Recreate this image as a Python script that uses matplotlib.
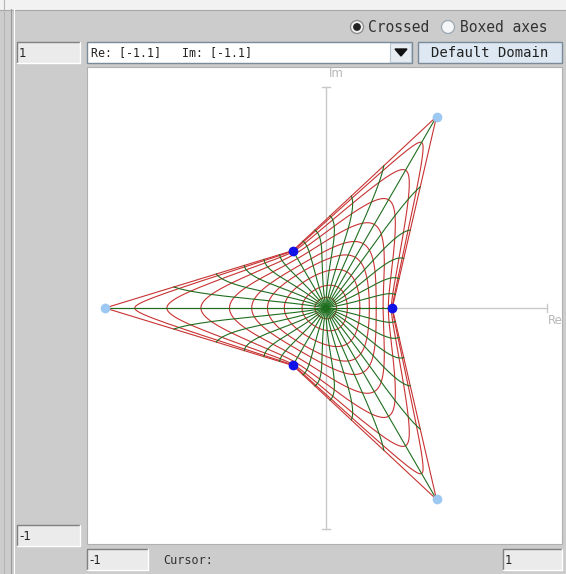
import numpy as np
import matplotlib
matplotlib.use("Agg")
import matplotlib.pyplot as plt
from matplotlib.patches import Rectangle, Circle, Polygon

# star polygon: vertex angle (deg) and distance from the origin
vertex_angles = [0, 60, 120, 180, 240, 300]
vertex_radii = [0.30, 1.0, 0.30, 1.0, 0.30, 1.0]
tip_angles = [60, 180, 300]
notch_angles = [0, 120, 240]

# polar grid of the unit disk that is mapped onto the star
circle_radii = [0.1, 0.21, 0.35, 0.47, 0.57, 0.69, 0.81, 0.91, 0.97, 1.0]
ray_count = 36
# boundary speed: 0 = follow the polar angle, 1 = follow the arc length
boundary_blend = 0.15

# widget texts
domain_text = "Re: [-1.1]   Im: [-1.1]"
ymax_text, ymin_text = "1", "-1"
xmin_text, xmax_text = "-1", "1"

W, H = 566, 574
fig = plt.figure(figsize=(W / 100, H / 100), dpi=100)

# ---------- window chrome, pixel coordinates ----------
bg = fig.add_axes([0, 0, 1, 1])
bg.set_xlim(0, W)
bg.set_ylim(H, 0)
bg.axis("off")

gray = "#cccccc"
bg.add_patch(Rectangle((0, 0), W, H, color=gray))
bg.add_patch(Rectangle((0, 0), W, 9, color="#f2f2f2"))
bg.plot([0, W], [9.5, 9.5], color="#a8a8a8", lw=0.8)
bg.plot([10.5, 10.5], [9, H], color="#999999", lw=0.8)
bg.plot([13.5, 13.5], [9, H], color="#ffffff", lw=0.8)
bg.plot([3.5, 3.5], [0, H], color="#b5b5b5", lw=0.8)


def field(x0, y0, x1, y1, text):
    bg.add_patch(Rectangle((x0, y0), x1 - x0, y1 - y0, facecolor="#ebebeb", edgecolor="none"))
    bg.plot([x0, x0, x1], [y1, y0, y0], color="#808080", lw=1.0)
    bg.plot([x0, x1, x1], [y1, y1, y0], color="#ffffff", lw=1.0)
    bg.text(x0 + 2, (y0 + y1) / 2 + 1, text, fontsize=8.5, va="center", ha="left",
            color="#222222")


field(17, 42, 80, 63, ymax_text)
field(17, 525, 80, 546, ymin_text)
field(87, 549, 148, 570, xmin_text)
field(503, 549, 562, 570, xmax_text)
bg.text(163, 560, "Cursor:", fontsize=8.5, va="center", ha="left", color="#333333",
        family="DejaVu Sans Mono")

# combo box holding the domain
bg.add_patch(Rectangle((87, 42), 325, 21, facecolor="white", edgecolor="#7a8a99", lw=1))
bg.text(91, 53, domain_text, fontsize=8.4, va="center", ha="left", color="#222222",
        family="DejaVu Sans Mono")
bg.add_patch(Rectangle((390, 43), 21, 19, facecolor="#e6ecf2", edgecolor="#b8c4cf", lw=0.8))
bg.add_patch(Polygon([[395, 49], [407, 49], [401, 56]], closed=True, color="#111111"))

# "Default Domain" button
bg.add_patch(Rectangle((418, 42), 144, 21, facecolor="#dde8f3", edgecolor="#7a8a99", lw=1))
bg.text(490, 53, "Default Domain", fontsize=10, va="center", ha="center",
        color="#222222", family="DejaVu Sans Mono")

# radio buttons
bg.add_patch(Circle((357, 27), 6.5, facecolor="#f0f0f0", edgecolor="#8a8a8a", lw=0.9))
bg.add_patch(Circle((357, 27), 3.2, color="#222222"))
bg.text(368, 27.5, "Crossed", fontsize=10.5, va="center", ha="left", color="#333333",
        family="DejaVu Sans Mono")
bg.add_patch(Circle((448, 27), 6.5, facecolor="#f4f6f8", edgecolor="#9aa7b3", lw=0.9))
bg.text(460, 27.5, "Boxed axes", fontsize=10.5, va="center", ha="left", color="#333333",
        family="DejaVu Sans Mono")

# white drawing area
bg.add_patch(Rectangle((87, 67), 475, 477, facecolor="white", edgecolor="#b0b0b0", lw=0.8))

# ---------- the mapped grid ----------
cx, cy, unit = 326, 308, 221
left, right, top, bottom = 87, 562, 67, 544
ax = fig.add_axes([left / W, 1 - bottom / H, (right - left) / W, (bottom - top) / H])
ax.set_xlim((left - cx) / unit, (right - cx) / unit)
ax.set_ylim((cy - bottom) / unit, (cy - top) / unit)
ax.axis("off")
ax.patch.set_alpha(0)

# boundary correspondence between |z|=1 and the star outline
N = 1024
theta = 2 * np.pi * np.arange(N) / N
va = np.deg2rad(vertex_angles + [vertex_angles[0] + 360])
vz = np.array(vertex_radii + [vertex_radii[0]]) * np.exp(1j * va)
s = np.linspace(0, 1, 400)[:-1]
outline = np.concatenate([vz[i] + (vz[i + 1] - vz[i]) * s for i in range(len(vz) - 1)])
seg = np.abs(np.diff(np.append(outline, outline[0])))
arc = np.concatenate([[0], np.cumsum(seg)[:-1]]) / seg.sum() * 2 * np.pi
polar = np.unwrap(np.angle(outline))
polar = polar - polar[0]
param = boundary_blend * arc + (1 - boundary_blend) * polar
edge = (np.interp(theta, param, outline.real, period=2 * np.pi)
        + 1j * np.interp(theta, param, outline.imag, period=2 * np.pi))

# harmonic (Poisson) extension of the boundary into the disk
coef = np.fft.fft(edge) / N
freq = np.fft.fftfreq(N, 1 / N)

axc = "#c8c8c8"
ax.plot([-1, 1], [0, 0], color=axc, lw=1, zorder=1)
ax.plot([0, 0], [-1, 1], color=axc, lw=1, zorder=1)
cap = 0.018
ax.plot([1, 1], [-cap, cap], color=axc, lw=1, zorder=1)
ax.plot([-1, -1], [-cap, cap], color=axc, lw=1, zorder=1)
ax.plot([-cap, cap], [1, 1], color=axc, lw=1, zorder=1)
ax.plot([-cap, cap], [-1, -1], color=axc, lw=1, zorder=1)
ax.text(1.005, -0.025, "Re", color="#b8b8b8", fontsize=8.5, ha="left", va="top")
ax.text(0.012, 1.03, "Im", color="#b8b8b8", fontsize=8.5, ha="left", va="bottom")

for r in circle_radii:
    w = np.fft.ifft(coef * r ** np.abs(freq)) * N
    w = np.append(w, w[0])
    ax.plot(w.real, w.imag, color="#c83232", lw=0.8, zorder=2)

rr = np.linspace(0, 1, 300)
for k in range(ray_count):
    ang = 2 * np.pi * k / ray_count
    w = (coef[None, :] * rr[:, None] ** np.abs(freq)[None, :]
         * np.exp(1j * freq * ang)[None, :]).sum(axis=1)
    ax.plot(w.real, w.imag, color="#1f6e1f", lw=0.8, zorder=3)

for ang in tip_angles:
    z = np.exp(1j * np.deg2rad(ang))
    ax.plot(z.real, z.imag, "o", color="#9cc8f2", ms=7, mec="none", zorder=4)
for ang in notch_angles:
    z = vertex_radii[0] * np.exp(1j * np.deg2rad(ang))
    ax.plot(z.real, z.imag, "o", color="#1010e8", ms=7, mec="none", zorder=4)

fig.savefig("out.png", dpi=100)
